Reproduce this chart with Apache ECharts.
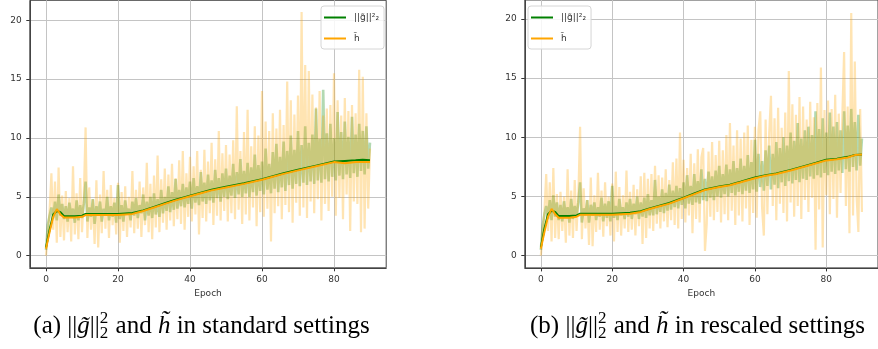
<!DOCTYPE html>
<html>
<head>
<meta charset="utf-8">
<script src="https://cdn.jsdelivr.net/npm/echarts@6/dist/echarts.min.js"></script>
<style>
  html, body { margin: 0; padding: 0; background: #fff; }
  #chart { width: 878px; height: 349px; }
</style>
</head>
<body>
<div id="chart"></div>
<script>
// ---- data -------------------------------------------------------------
// per-step values, one sample every half epoch from 0 to 90
const noisyStep = 0.5;

const leftGradNoisy = [
  0.5, 2.6, 3.4, 4.1, 3.2, 4.6, 3.0, 5.2, 3.4, 4.4,
  3.1, 4.2, 2.9, 4.5, 3.3, 4.0, 2.8, 4.7, 3.0, 4.3,
  3.2, 4.4, 6.3, 2.9, 4.1, 3.3, 4.8, 2.7, 4.2, 3.5,
  4.6, 2.9, 4.0, 3.4, 5.0, 3.0, 4.2, 3.3, 4.5, 2.8,
  6.0, 3.1, 4.3, 2.9, 4.7, 3.5, 4.0, 3.0, 4.6, 3.4,
  4.9, 3.2, 4.3, 3.6, 5.2, 3.0, 4.6, 3.4, 5.0, 3.2,
  5.3, 3.5, 4.8, 3.3, 5.6, 3.6, 5.0, 3.8, 5.9, 3.7,
  5.4, 3.9, 6.5, 4.0, 5.6, 4.2, 6.1, 4.1, 5.8, 4.4,
  6.3, 4.0, 6.6, 4.5, 5.9, 4.3, 7.1, 4.6, 6.2, 4.4,
  6.9, 4.7, 6.4, 4.5, 7.3, 4.9, 6.6, 4.6, 7.0, 5.0,
  7.4, 4.8, 6.8, 5.1, 7.8, 4.9, 7.1, 5.2, 8.2, 5.0,
  7.2, 5.3, 7.9, 5.0, 7.5, 5.4, 8.6, 5.1, 7.7, 5.5,
  8.0, 5.2, 9.1, 5.6, 7.8, 5.3, 8.8, 5.7, 9.5, 5.4,
  8.4, 5.8, 9.7, 5.5, 8.9, 6.0, 10.2, 5.7, 9.0, 6.1,
  10.6, 5.9, 9.4, 6.2, 11.0, 6.0, 9.6, 6.3, 10.3, 6.1,
  12.5, 6.4, 9.9, 6.2, 14.1, 6.5, 10.4, 6.3, 11.2, 6.7,
  10.0, 6.4, 12.2, 6.8, 10.5, 6.5, 11.4, 6.9, 10.1, 6.6,
  11.8, 7.0, 10.3, 6.7, 11.2, 7.2, 10.6, 6.9, 11.0, 7.4,
  9.6
];

const leftHNoisy = [
  0.0, 1.8, 3.8, 7.0, 2.2, 6.3, 1.1, 7.5, 1.6, 5.1,
  1.3, 5.5, 2.0, 4.9, 1.2, 7.6, 1.8, 5.3, 1.4, 6.6,
  2.0, 5.0, 10.9, 1.5, 5.8, 2.2, 4.8, 1.0, 6.4, 0.7,
  5.2, 1.9, 7.2, 2.3, 5.6, 1.5, 6.0, 2.6, 4.9, 1.8,
  6.2, 1.1, 5.4, 2.1, 5.9, 1.6, 5.0, 2.4, 7.2, 1.9,
  5.6, 2.3, 6.3, 1.6, 5.8, 2.6, 7.9, 2.0, 6.1, 1.4,
  6.8, 2.4, 8.5, 2.0, 6.5, 2.8, 7.4, 2.2, 6.9, 3.0,
  7.8, 2.5, 6.6, 3.1, 8.1, 2.7, 8.9, 2.2, 7.0, 3.3,
  8.4, 2.9, 7.6, 3.5, 8.9, 1.8, 7.3, 3.2, 9.0, 2.9,
  8.0, 3.6, 9.6, 2.6, 8.2, 3.4, 10.6, 3.0, 8.7, 3.8,
  9.4, 2.9, 8.6, 3.6, 9.8, 3.1, 12.7, 3.9, 8.9, 2.7,
  10.5, 3.5, 12.4, 3.0, 9.3, 4.1, 11.0, 2.5, 10.2, 3.7,
  14.0, 3.3, 11.4, 4.0, 10.6, 1.2, 12.1, 3.6, 10.8, 4.2,
  12.4, 3.1, 11.1, 4.3, 14.8, 3.7, 13.2, 2.8, 12.0, 4.5,
  13.6, 3.4, 20.7, 4.1, 16.2, 3.2, 15.7, 4.6, 13.7, 3.6,
  12.6, 4.8, 14.0, 3.0, 11.9, 4.4, 12.5, 3.8, 12.8, 5.0,
  15.5, 3.4, 13.2, 4.9, 11.9, 3.1, 13.4, 5.2, 12.3, 2.1,
  12.8, 4.6, 12.1, 4.4, 15.8, 2.0, 15.2, 2.3, 12.1, 4.0,
  9.1
];

const leftSmoothEpochs = [0, 1, 2, 3, 3.5, 4, 5, 8, 10, 11, 15, 20, 24, 27, 30, 33, 36, 40, 43, 46, 50, 55, 60, 63, 66, 70, 75, 80, 83, 86, 88, 90];
const leftGradSmooth = [0.7, 2.2, 3.5, 3.8, 3.9, 3.7, 3.35, 3.35, 3.4, 3.55, 3.55, 3.55, 3.62, 3.85, 4.15, 4.45, 4.75, 5.1, 5.35, 5.6, 5.85, 6.15, 6.5, 6.75, 7.0, 7.3, 7.65, 8.0, 8.05, 8.1, 8.15, 8.1];
const leftHSmooth = [0.6, 2.0, 3.3, 3.95, 3.75, 3.5, 3.25, 3.25, 3.3, 3.45, 3.45, 3.45, 3.55, 3.8, 4.1, 4.4, 4.7, 5.05, 5.3, 5.55, 5.8, 6.1, 6.45, 6.7, 6.95, 7.25, 7.6, 7.95, 7.85, 7.95, 7.95, 7.95];

const rightGradNoisy = [
  0.5, 2.5, 3.5, 4.2, 3.1, 4.7, 3.0, 5.1, 3.3, 4.5,
  3.0, 4.3, 2.9, 4.6, 3.2, 4.1, 2.8, 4.8, 3.1, 4.2,
  3.3, 4.5, 6.2, 2.8, 4.0, 3.4, 4.7, 2.8, 4.3, 3.4,
  4.5, 3.0, 4.1, 3.3, 4.9, 2.9, 4.4, 3.2, 4.6, 2.9,
  5.9, 3.2, 4.2, 3.0, 4.8, 3.4, 4.1, 3.1, 4.5, 3.3,
  4.8, 3.1, 4.4, 3.5, 5.0, 3.1, 4.5, 3.3, 4.9, 3.2,
  5.2, 3.4, 4.7, 3.4, 6.4, 3.5, 5.0, 3.7, 5.6, 3.6,
  5.3, 3.8, 6.0, 3.9, 5.5, 4.1, 5.9, 4.0, 5.7, 4.3,
  6.2, 4.0, 6.8, 4.4, 5.9, 4.3, 6.9, 4.5, 6.3, 4.4,
  7.3, 4.7, 6.5, 4.6, 7.1, 4.9, 6.7, 4.7, 7.2, 5.0,
  7.6, 4.9, 6.9, 5.2, 7.7, 5.0, 7.3, 5.3, 8.0, 5.1,
  7.4, 5.4, 8.2, 5.2, 7.6, 5.5, 8.5, 5.3, 7.9, 5.6,
  9.8, 5.4, 8.6, 5.8, 8.0, 5.5, 8.9, 5.9, 9.3, 5.6,
  8.6, 6.0, 9.6, 5.7, 9.1, 6.2, 10.0, 5.9, 9.3, 6.3,
  10.4, 6.1, 9.7, 6.4, 11.2, 6.2, 9.9, 6.5, 10.6, 6.4,
  10.9, 6.7, 10.2, 6.5, 12.2, 6.8, 10.7, 6.6, 11.6, 7.0,
  10.4, 6.8, 12.1, 7.1, 10.9, 6.9, 11.3, 7.2, 10.6, 7.0,
  12.2, 7.3, 11.0, 7.1, 12.4, 7.5, 11.3, 7.2, 11.9, 7.6,
  9.9
];

const rightHNoisy = [
  0.0, 1.9, 3.7, 6.9, 2.1, 6.2, 1.2, 7.4, 1.5, 5.2,
  1.4, 5.4, 2.1, 5.0, 1.1, 7.3, 1.7, 5.5, 1.5, 6.4,
  2.1, 4.9, 10.9, 1.4, 5.7, 2.3, 4.7, 0.9, 6.6, 0.8,
  5.1, 2.0, 7.0, 2.2, 5.5, 1.6, 6.2, 2.5, 5.0, 1.7,
  6.1, 1.2, 7.1, 2.0, 5.8, 1.7, 5.1, 2.3, 7.2, 2.0,
  5.4, 2.2, 6.0, 1.7, 5.6, 2.5, 6.7, 1.0, 7.0, 1.5,
  6.5, 2.3, 6.9, 2.1, 7.6, 2.7, 6.8, 2.3, 6.6, 2.9,
  7.3, 2.4, 6.4, 3.0, 7.9, 2.6, 8.2, 2.3, 10.4, 3.1,
  8.1, 2.8, 7.4, 3.4, 8.6, 1.9, 7.8, 3.1, 9.0, 2.8,
  8.3, 9.1, 0.4, 2.7, 8.8, 3.3, 9.6, 3.0, 8.5, 3.7,
  9.7, 2.8, 8.9, 3.5, 10.2, 3.0, 11.2, 3.8, 9.3, 2.6,
  10.6, 3.4, 9.9, 2.9, 10.4, 4.0, 11.0, 2.6, 9.8, 3.6,
  10.9, 3.2, 10.6, 12.2, 4.1, 1.7, 11.5, 3.5, 10.3, 13.5,
  4.2, 11.6, 3.0, 12.5, 4.4, 10.8, 3.6, 12.1, 2.9, 15.6,
  4.5, 12.8, 3.3, 11.9, 4.2, 13.4, 3.1, 12.6, 4.7, 11.5,
  3.7, 13.0, 4.9, 11.7, 0.5, 12.9, 3.9, 15.9, 0.7, 12.3,
  5.1, 13.1, 3.5, 12.4, 4.8, 13.6, 3.2, 12.0, 5.3, 11.8,
  17.2, 4.2, 12.6, 1.9, 20.5, 3.4, 16.4, 5.0, 2.0, 12.4,
  3.7
];

const rightSmoothEpochs = [0, 1, 2, 3, 3.5, 4, 5, 8, 10, 11, 15, 20, 25, 28, 30, 33, 36, 40, 43, 46, 50, 53, 56, 60, 63, 66, 70, 73, 76, 80, 83, 86, 88, 90];
const rightGradSmooth = [0.7, 2.3, 3.5, 3.8, 3.9, 3.7, 3.35, 3.35, 3.4, 3.55, 3.55, 3.55, 3.62, 3.75, 3.95, 4.2, 4.45, 4.9, 5.25, 5.6, 5.85, 6.0, 6.25, 6.6, 6.8, 6.95, 7.25, 7.5, 7.75, 8.1, 8.2, 8.35, 8.5, 8.55];
const rightHSmooth = [0.6, 2.0, 3.3, 3.95, 3.75, 3.5, 3.2, 3.2, 3.3, 3.45, 3.45, 3.45, 3.55, 3.7, 3.9, 4.15, 4.4, 4.85, 5.2, 5.55, 5.8, 5.95, 6.2, 6.55, 6.75, 6.9, 7.2, 7.45, 7.7, 8.05, 8.15, 8.3, 8.5, 8.55];

const xTicks = [0, 20, 40, 60, 80];
const yTicks = [0, 5, 10, 15, 20];
const NAME_G = '||g\u0303||\u00b2\u2082';
const NAME_H = 'h\u0303';

// ---- helpers ----------------------------------------------------------
const GREEN = '#008000';
const ORANGE = '#ffa500';
const TEXT = '#333';
const FRAME = '#444';

function noisyPairs(values) {
  return values.map((v, i) => [i * noisyStep, v]);
}
function pairs(xs, ys) {
  return xs.map((x, i) => [x, ys[i]]);
}

function xAxis(gridIndex) {
  return {
    type: 'value', gridIndex, min: -4.5, max: 94.5,
    name: 'Epoch', nameLocation: 'middle', nameGap: 20,
    nameTextStyle: { fontSize: 9, fontFamily: 'DejaVu Sans', color: TEXT },
    axisLine: { show: true, onZero: false, lineStyle: { color: FRAME, width: 1 } },
    axisTick: { show: true, length: 3.5, lineStyle: { color: TEXT, width: 1 }, customValues: xTicks },
    axisLabel: { fontSize: 9, fontFamily: 'DejaVu Sans', color: TEXT, margin: 7, customValues: xTicks },
    splitLine: { show: true, lineStyle: { color: '#c4c4c4', width: 1 } }
  };
}
function yAxis(gridIndex, max) {
  return {
    type: 'value', gridIndex, min: -1.03, max,
    axisLine: { show: true, onZero: false, lineStyle: { color: FRAME, width: 1 } },
    axisTick: { show: true, length: 3.5, lineStyle: { color: TEXT, width: 1 }, customValues: yTicks },
    axisLabel: { fontSize: 9, fontFamily: 'DejaVu Sans', color: TEXT, margin: 8, customValues: yTicks },
    splitLine: { show: true, lineStyle: { color: '#c4c4c4', width: 1 } }
  };
}
function lineSeries(name, idx, data, color, opacity, width, z) {
  return {
    type: 'line', name, xAxisIndex: idx, yAxisIndex: idx, data,
    symbol: 'none', silent: true, animation: false, z,
    color, itemStyle: { color },
    lineStyle: { color, opacity, width }
  };
}
function legend(left) {
  return {
    data: [NAME_G, NAME_H], orient: 'vertical', left, top: 6,
    icon: 'rect', itemWidth: 22, itemHeight: 2, itemGap: 10,
    padding: [6, 5, 5, 3], selectedMode: false,
    backgroundColor: 'rgba(255,255,255,0.85)',
    borderColor: '#d6d6d6', borderWidth: 1, borderRadius: 3,
    textStyle: { fontSize: 9, fontFamily: 'DejaVu Sans', color: TEXT, lineHeight: 11, padding: [0, 0, 0, 3] }
  };
}

// ---- caption built from pieces so the 2/2 pair can be stacked ----------
const measureCtx = document.createElement('canvas').getContext('2d');
function textWidth(t, font) { measureCtx.font = font; return measureCtx.measureText(t).width; }
const FONT = '25px "Liberation Serif"';
const FONT_IT = 'italic 25px "Liberation Serif"';
const FONT_SM = '17px "Liberation Serif"';

function caption(label, tail, cx, cy) {
  const pieces = [
    { t: label + ' ||', f: FONT },
    { t: 'g\u0303', f: FONT_IT },
    { t: '||', f: FONT },
    { stack: '2' },
    { t: ' and ', f: FONT },
    { t: 'h\u0303', f: FONT_IT },
    { t: ' ' + tail, f: FONT }
  ];
  let total = 0;
  pieces.forEach(p => { p.w = p.stack ? textWidth(p.stack, FONT_SM) + 1 : textWidth(p.t, p.f); total += p.w; });
  let x = cx - total / 2;
  const els = [];
  pieces.forEach(p => {
    if (p.stack) {
      els.push({ type: 'text', x, y: cy - 8, style: { text: p.stack, font: FONT_SM, fill: '#000', textVerticalAlign: 'middle' } });
      els.push({ type: 'text', x, y: cy + 7, style: { text: p.stack, font: FONT_SM, fill: '#000', textVerticalAlign: 'middle' } });
    } else {
      els.push({ type: 'text', x, y: cy, style: { text: p.t, font: p.f, fill: '#000', textVerticalAlign: 'middle' } });
    }
    x += p.w;
  });
  return els;
}

// ---- chart ------------------------------------------------------------
const chart = echarts.init(document.getElementById('chart'), null, { renderer: 'canvas' });
chart.setOption({
  animation: false,
  backgroundColor: '#fff',
  grid: [
    { left: 29.8, top: 0.3, width: 356.4, height: 267.5, show: true, borderColor: FRAME, borderWidth: 1, backgroundColor: 'transparent' },
    { left: 524.8, top: -0.7, width: 356.8, height: 268.6, show: true, borderColor: FRAME, borderWidth: 1, backgroundColor: 'transparent' }
  ],
  xAxis: [xAxis(0), xAxis(1)],
  yAxis: [yAxis(0, 21.7), yAxis(1, 21.6)],
  legend: [legend(321), legend(528)],
  series: [
    lineSeries('gNoisyA', 0, noisyPairs(leftGradNoisy), GREEN, 0.3, 2.6, 2),
    lineSeries('hNoisyA', 0, noisyPairs(leftHNoisy), ORANGE, 0.3, 2.2, 3),
    lineSeries(NAME_G, 0, pairs(leftSmoothEpochs, leftGradSmooth), GREEN, 1, 2, 4),
    lineSeries(NAME_H, 0, pairs(leftSmoothEpochs, leftHSmooth), ORANGE, 1, 2, 5),
    lineSeries('gNoisyB', 1, noisyPairs(rightGradNoisy), GREEN, 0.3, 2.6, 2),
    lineSeries('hNoisyB', 1, noisyPairs(rightHNoisy), ORANGE, 0.3, 2.2, 3),
    lineSeries(NAME_G, 1, pairs(rightSmoothEpochs, rightGradSmooth), GREEN, 1, 2, 4),
    lineSeries(NAME_H, 1, pairs(rightSmoothEpochs, rightHSmooth), ORANGE, 1, 2, 5)
  ],
  graphic: [
    ...caption('(a)', 'in standard settings', 201.5, 326.5),
    ...caption('(b)', 'in rescaled settings', 697.5, 326.5)
  ]
});
</script>
</body>
</html>
